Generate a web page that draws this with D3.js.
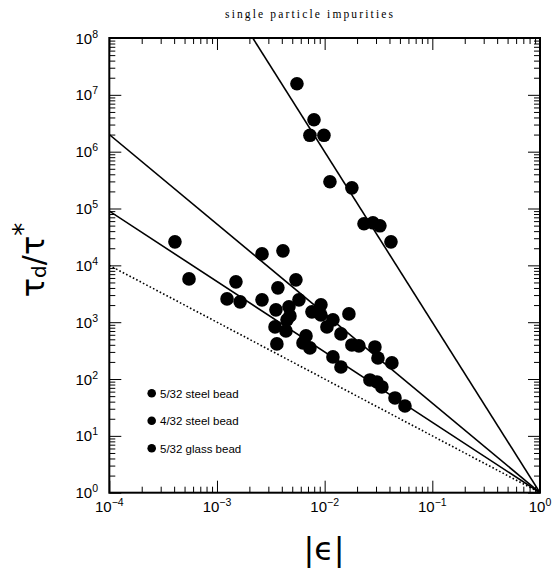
<!DOCTYPE html>
<html>
<head>
<meta charset="utf-8">
<script src="https://cdn.jsdelivr.net/npm/d3@7"></script>
<style>
  html, body { margin: 0; padding: 0; background: #fff; }
  svg { display: block; }
</style>
</head>
<body>
<svg id="chart" width="556" height="569"></svg>
<script>
// ---- data ----
const title = "single particle impurities";
const xTickExps = [-4, -3, -2, -1, 0];
const yTickExps = [0, 1, 2, 3, 4, 5, 6, 7, 8];
const legendLabels = ["5/32 steel bead", "4/32 steel bead", "5/32 glass bead"];

// measured points: |epsilon| and tau_d / tau*
const pointEps = [
  0.00553, 0.00796, 0.0073, 0.00985, 0.0112, 0.0179, 0.0232, 0.0281, 0.0326, 0.0413,
  0.000407, 0.00055, 0.0015, 0.00124, 0.00164, 0.00262, 0.0041, 0.00368, 0.00541, 0.00262,
  0.00353, 0.00466, 0.00577, 0.00476, 0.00447, 0.00346, 0.00437, 0.0036, 0.00671, 0.00629,
  0.0073, 0.00924, 0.00762, 0.00924, 0.01194, 0.0105, 0.0168, 0.01417, 0.0179, 0.0208,
  0.0293, 0.03126, 0.0421, 0.01194, 0.01417, 0.02634, 0.0306, 0.034, 0.045, 0.0557
];
const pointTau = [
  1.57e7, 3.65e6, 1.94e6, 1.94e6, 2.95e5, 2.31e5, 5.38e4, 5.6e4, 4.96e4, 2.59e4,
  2.59e4, 5780, 5120, 2570, 2280, 1.59e4, 1.8e4, 4020, 5560, 2470,
  1650, 1860, 2470, 1290, 1100, 826, 703, 415, 574, 432,
  353, 2020, 1520, 1340, 1100, 826, 1400, 622, 398, 383,
  367, 235, 192, 245, 163, 96.4, 88.9, 72.6, 46.5, 33.6
];

// fitted power laws (endpoints in eps, tau)
const fitSteepEps = [0.00215, 1];
const fitSteepTau = [1e8, 1];
const fitMidEps = [1e-4, 1];
const fitMidTau = [2e6, 1];
const fitLowEps = [1e-4, 1];
const fitLowTau = [9e4, 1];
const refEps = [1e-4, 1];
const refTau = [1e4, 1];

// ---- drawing ----
const svg = d3.select("#chart");
const L = 109.3, R = 540, T = 38, B = 492.7;
const x = d3.scaleLog().domain([1e-4, 1]).range([L, R]);
const y = d3.scaleLog().domain([1, 1e8]).range([B, T]);

svg.append("defs").append("clipPath").attr("id", "clip")
  .append("rect").attr("x", L).attr("y", T).attr("width", R - L).attr("height", B - T);

const minor = (exps) => {
  const out = [];
  for (let i = 0; i < exps.length - 1; i++)
    for (let m = 2; m <= 9; m++) out.push(m * Math.pow(10, exps[i]));
  return out;
};
const xMaj = xTickExps.map(e => Math.pow(10, e));
const yMaj = yTickExps.map(e => Math.pow(10, e));
const xMin = minor(xTickExps), yMin = minor(yTickExps);

function axisStyle(g) {
  g.select(".domain").remove();
  g.selectAll("line").attr("stroke", "#000").attr("stroke-width", 1);
  g.selectAll("text").remove();
}
// bottom / top
svg.append("g").attr("transform", `translate(0,${B})`)
  .call(d3.axisBottom(x).tickValues(xMaj).tickSize(-12).tickFormat("")).call(axisStyle);
svg.append("g").attr("transform", `translate(0,${B})`)
  .call(d3.axisBottom(x).tickValues(xMin).tickSize(-6).tickFormat("")).call(axisStyle);
svg.append("g").attr("transform", `translate(0,${T})`)
  .call(d3.axisTop(x).tickValues(xMaj).tickSize(-12).tickFormat("")).call(axisStyle);
svg.append("g").attr("transform", `translate(0,${T})`)
  .call(d3.axisTop(x).tickValues(xMin).tickSize(-6).tickFormat("")).call(axisStyle);
// left / right
svg.append("g").attr("transform", `translate(${L},0)`)
  .call(d3.axisLeft(y).tickValues(yMaj).tickSize(-12).tickFormat("")).call(axisStyle);
svg.append("g").attr("transform", `translate(${L},0)`)
  .call(d3.axisLeft(y).tickValues(yMin).tickSize(-6).tickFormat("")).call(axisStyle);
svg.append("g").attr("transform", `translate(${R},0)`)
  .call(d3.axisRight(y).tickValues(yMaj).tickSize(-12).tickFormat("")).call(axisStyle);
svg.append("g").attr("transform", `translate(${R},0)`)
  .call(d3.axisRight(y).tickValues(yMin).tickSize(-6).tickFormat("")).call(axisStyle);

// frame
svg.append("rect").attr("x", L).attr("y", T).attr("width", R - L).attr("height", B - T)
  .attr("fill", "none").attr("stroke", "#000").attr("stroke-width", 2);

// tick labels
const lblFont = "'Liberation Sans', Arial, sans-serif";
xTickExps.forEach(e => {
  const t = svg.append("text").attr("x", x(Math.pow(10, e))).attr("y", 512)
    .attr("text-anchor", "middle").attr("font-family", lblFont).attr("font-size", 15);
  t.append("tspan").text("10");
  t.append("tspan").attr("dy", -6).attr("font-size", 10.5).text(e < 0 ? "\u2212" + (-e) : e);
});
yTickExps.forEach(e => {
  const t = svg.append("text").attr("x", 98).attr("y", y(Math.pow(10, e)) + 5.5)
    .attr("text-anchor", "end").attr("font-family", lblFont).attr("font-size", 15);
  t.append("tspan").text("10");
  t.append("tspan").attr("dy", -6).attr("font-size", 10.5).text(e);
});

// title
svg.append("text").attr("x", 225).attr("y", 18)
  .attr("font-family", "'Liberation Serif', 'DejaVu Serif', serif").attr("font-size", 11.5)
  .attr("textLength", 168).attr("lengthAdjust", "spacing").text(title);

// axis titles
svg.append("text").attr("x", 324).attr("y", 560).attr("text-anchor", "middle")
  .attr("font-family", "'DejaVu Sans', sans-serif").attr("font-size", 32)
  .text("|\u03F5|");

const yt = svg.append("text").attr("transform", "translate(44,260) rotate(-90)")
  .attr("text-anchor", "middle").attr("font-family", "'DejaVu Sans', sans-serif").attr("font-size", 32);
yt.append("tspan").text("\u03C4");
yt.append("tspan").attr("dy", 2).attr("font-size", 20).text("d");
yt.append("tspan").attr("dy", -2).attr("font-size", 30).text("/");
yt.append("tspan").text("\u03C4");
yt.append("tspan").attr("dy", -12).attr("font-size", 26).text("*");

// fitted lines
const lineGen = d3.line().x(d => x(d[0])).y(d => y(d[1]));
const plot = svg.append("g").attr("clip-path", "url(#clip)");
[[fitSteepEps, fitSteepTau], [fitMidEps, fitMidTau], [fitLowEps, fitLowTau]].forEach(([e, t]) => {
  plot.append("path").datum(e.map((v, i) => [v, t[i]])).attr("d", lineGen)
    .attr("fill", "none").attr("stroke", "#000").attr("stroke-width", 1.6);
});
plot.append("path").datum(refEps.map((v, i) => [v, refTau[i]])).attr("d", lineGen)
  .attr("fill", "none").attr("stroke", "#000").attr("stroke-width", 1.6)
  .attr("stroke-dasharray", "1.6,2.2");

// points
plot.selectAll("circle.pt").data(pointEps.map((v, i) => [v, pointTau[i]])).enter()
  .append("circle").attr("class", "pt")
  .attr("cx", d => x(d[0])).attr("cy", d => y(d[1])).attr("r", 6.8).attr("fill", "#000");

// legend
legendLabels.forEach((lab, i) => {
  const cy = 393.3 + i * 27.5;
  svg.append("circle").attr("cx", 151.7).attr("cy", cy).attr("r", 4.3).attr("fill", "#000");
  svg.append("text").attr("x", 160).attr("y", cy + 4.3)
    .attr("font-family", lblFont).attr("font-size", 11.5).text(lab);
});
</script>
</body>
</html>
